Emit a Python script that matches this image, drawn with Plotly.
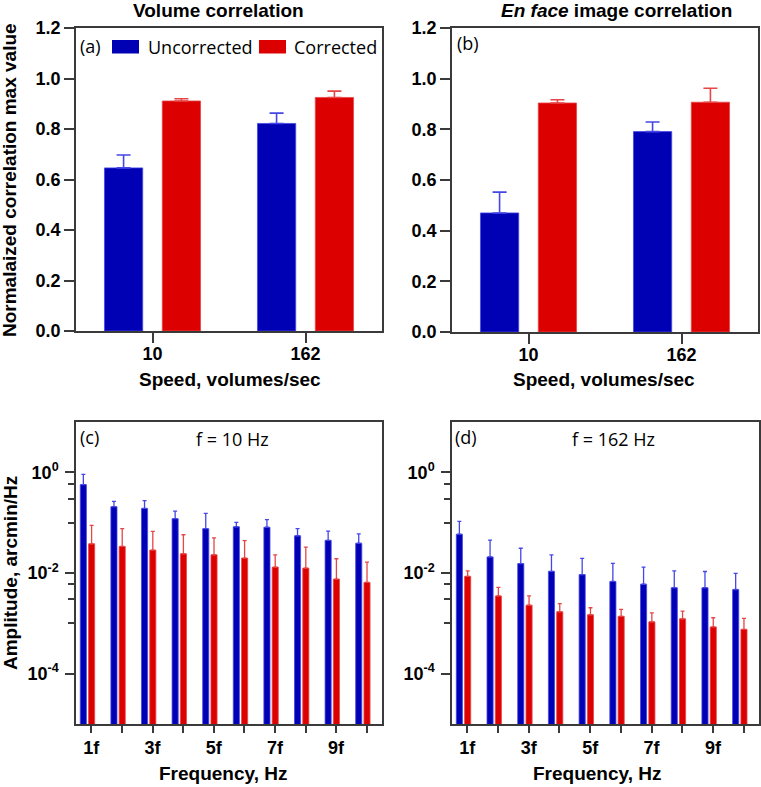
import plotly.graph_objects as go

# ---------------- data ----------------
speeds = ["10", "162"]
vol_uncorr = [0.646, 0.822]
vol_uncorr_top = [0.697, 0.863]
vol_corr = [0.911, 0.925]
vol_corr_top = [0.920, 0.950]

enf_uncorr = [0.470, 0.791]
enf_uncorr_top = [0.552, 0.829]
enf_corr = [0.904, 0.907]
enf_corr_top = [0.917, 0.962]

harmonics = ["1f", "2f", "3f", "4f", "5f", "6f", "7f", "8f", "9f", "10f"]

c_uncorr = [0.57, 0.208, 0.192, 0.12, 0.076, 0.083, 0.081, 0.055, 0.0446, 0.039]
c_uncorr_top = [0.91, 0.265, 0.273, 0.17, 0.153, 0.101, 0.115, 0.076, 0.068, 0.06]
c_corr = [0.038, 0.0338, 0.0285, 0.0241, 0.023, 0.0198, 0.0131, 0.0125, 0.00757, 0.0065]
c_corr_top = [0.088, 0.076, 0.067, 0.0576, 0.05, 0.044, 0.023, 0.0327, 0.0192, 0.0165]

d_uncorr = [0.059, 0.0209, 0.0154, 0.0108, 0.0093, 0.0068, 0.006, 0.0051, 0.0051, 0.0047]
d_uncorr_top = [0.106, 0.045, 0.031, 0.023, 0.0195, 0.0155, 0.0131, 0.011, 0.0107, 0.0098]
d_corr = [0.0086, 0.0035, 0.0023, 0.0017, 0.00148, 0.00138, 0.00107, 0.00123, 0.00085, 0.00076]
d_corr_top = [0.011, 0.0052, 0.0035, 0.00246, 0.00204, 0.0019, 0.00162, 0.00175, 0.00129, 0.00125]

log_major = [1, 0.01, 0.0001]
log_major_labels = ["10<sup>0</sup>", "10<sup>-2</sup>", "10<sup>-4</sup>"]
log_minor = [0.6, 0.3, 0.1, 0.006, 0.003, 0.001]

# ---------------- style ----------------
W, H = 761, 787
BLUE = "#0000B4"
RED = "#DC0000"
BLUE_ERR = "#4646E6"
RED_ERR = "#E64646"
AX = "#3a3a3a"
BOLD = "Liberation Sans, Arial, sans-serif"
REG = "Open Sans, sans-serif"

h_pos = list(range(len(harmonics)))          # positions of the harmonic categories
h_major = h_pos[0::2]
h_minor = h_pos[1::2]
h_major_text = harmonics[0::2]


def px(x):
    return x / W


def py(y):
    return 1 - y / H


def err(vals, tops):
    return [t - v for v, t in zip(vals, tops)]


fig = go.Figure()


def add_bar(x, y, top, color, ecolor, ax, width, offset, ethick, ewidth):
    fig.add_trace(go.Bar(
        x=x, y=y, width=width, offset=offset,
        marker=dict(color=color, line=dict(color=ecolor, width=0.8)),
        error_y=dict(type="data", symmetric=False, array=err(y, top),
                     arrayminus=[0] * len(y), color=ecolor,
                     thickness=ethick, width=ewidth),
        xaxis="x" + ax, yaxis="y" + ax, showlegend=False,
    ))


add_bar(speeds, vol_uncorr, vol_uncorr_top, BLUE, BLUE_ERR, "", 0.25, -0.314, 1.6, 7)
add_bar(speeds, vol_corr, vol_corr_top, RED, RED_ERR, "", 0.25, 0.064, 1.6, 7)
add_bar(speeds, enf_uncorr, enf_uncorr_top, BLUE, BLUE_ERR, "2", 0.25, -0.314, 1.6, 7)
add_bar(speeds, enf_corr, enf_corr_top, RED, RED_ERR, "2", 0.25, 0.064, 1.6, 7)
add_bar(h_pos, c_uncorr, c_uncorr_top, BLUE, BLUE_ERR, "3", 0.2, -0.36, 1.3, 2)
add_bar(h_pos, c_corr, c_corr_top, RED, RED_ERR, "3", 0.2, -0.09, 1.3, 2)
add_bar(h_pos, d_uncorr, d_uncorr_top, BLUE, BLUE_ERR, "4", 0.2, -0.36, 1.3, 2)
add_bar(h_pos, d_corr, d_corr_top, RED, RED_ERR, "4", 0.2, -0.09, 1.3, 2)

tickfont = dict(family=BOLD, size=18, color="black", weight="bold")
common_axis = dict(showline=True, linecolor=AX, linewidth=1.5, mirror=True,
                   ticks="outside", tickcolor=AX, tickwidth=1.5,
                   showgrid=False, zeroline=False, tickfont=tickfont,
                   automargin=False)

dom = {
    "": ([76, 382], [28, 331]),
    "2": ([452, 758], [28, 332]),
    "3": ([76, 382], [422, 724]),
    "4": ([452, 759], [422, 724]),
}
layout = {}
for k, (xd, yd) in dom.items():
    xdom = [px(xd[0]), px(xd[1])]
    ydom = [py(yd[1]), py(yd[0])]
    xa = dict(common_axis, domain=xdom, anchor="y" + k)
    ya = dict(common_axis, domain=ydom, anchor="x" + k)
    if k in ("", "2"):
        xa.update(type="category", range=[-0.5, 1.5], ticklen=10,
                  ticklabelstandoff=-4)
        ya.update(range=[0, 1.2], dtick=0.2, tickformat=".1f", ticklen=10)
    else:
        xa.update(type="linear", range=[-0.5, 9.5], tickmode="array",
                  tickvals=h_major, ticktext=h_major_text, ticklen=7,
                  minor=dict(tickmode="array", tickvals=h_minor,
                             ticks="outside", ticklen=7, tickcolor=AX,
                             tickwidth=1.5))
        ya.update(type="log", range=[-5, 1], tickmode="array",
                  tickvals=log_major, ticktext=log_major_labels, ticklen=9,
                  ticklabelstandoff=3,
                  minor=dict(tickmode="array", tickvals=log_minor,
                             ticks="outside", ticklen=6, tickcolor=AX,
                             tickwidth=1.5))
    layout["xaxis" + k] = xa
    layout["yaxis" + k] = ya

ann = []


def text(x, y, s, size, family=BOLD, xanchor="center", angle=0):
    ann.append(dict(x=px(x), y=py(y), xref="paper", yref="paper", text=s,
                    showarrow=False, xanchor=xanchor, yanchor="middle",
                    textangle=angle, font=dict(family=family, size=size,
                                               color="black")))


text(218, 11, "<b>Volume correlation</b>", 19)
text(616, 11, "<b><i>En face</i> image correlation</b>", 19)
text(10, 180, "<b>Normalaized correlation max value</b>", 19, angle=-90)
text(10, 573, "<b>Amplitude, arcmin/Hz</b>", 19, angle=-90)
text(230, 379, "<b>Speed, volumes/sec</b>", 19)
text(604, 379, "<b>Speed, volumes/sec</b>", 19)
text(223, 773, "<b>Frequency, Hz</b>", 19)
text(597, 773, "<b>Frequency, Hz</b>", 19)
text(78, 46, "(a)", 18, REG, "left")
text(455, 43, "(b)", 18, REG, "left")
text(78, 437, "(c)", 18, REG, "left")
text(453, 437, "(d)", 18, REG, "left")
text(233, 439, "f = 10 Hz", 18, REG)
text(613, 439, "f = 162 Hz", 18, REG)
text(146, 47, "Uncorrected", 18, REG, "left")
text(292, 47, "Corrected", 18, REG, "left")

shapes = [
    dict(type="rect", xref="paper", yref="paper", x0=px(112), x1=px(139),
         y0=py(53.5), y1=py(40), fillcolor=BLUE, line=dict(width=0)),
    dict(type="rect", xref="paper", yref="paper", x0=px(259), x1=px(286),
         y0=py(53.5), y1=py(40), fillcolor=RED, line=dict(width=0)),
]

fig.update_layout(width=W, height=H, margin=dict(l=0, r=0, t=0, b=0),
                  paper_bgcolor="white", plot_bgcolor="white",
                  barmode="overlay", annotations=ann, shapes=shapes,
                  **layout)

fig.write_html("out.html", config={"displayModeBar": False},
               post_script="document.body.style.margin='0';")
